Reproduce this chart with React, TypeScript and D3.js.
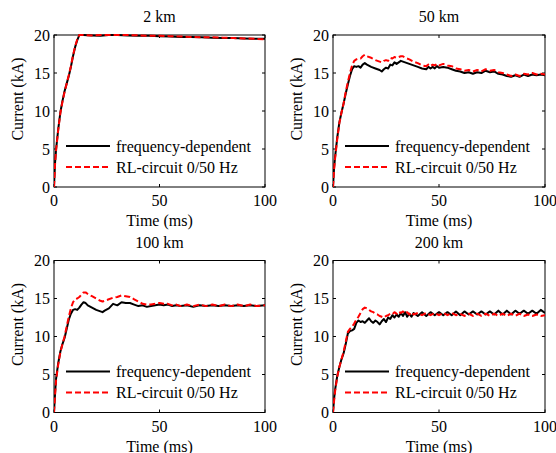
import React from "react";
import * as d3 from "d3";

// ---------- data ----------
const panelTitles = ["2 km", "50 km", "100 km", "200 km"];
const seriesNames = ["frequency-dependent", "RL-circuit 0/50 Hz"];
const xTicks = [0, 50, 100];
const yTicks = [0, 5, 10, 15, 20];

// 2 km
const t1 = [0, 0.5, 1, 2, 3, 4, 5, 6, 7, 8, 9, 10, 11, 12, 14, 18, 22, 26, 30, 35, 40, 45, 50, 55, 60, 65, 70, 75, 80, 85, 90, 95, 100];
const freq1 = [0, 3.2, 5, 7.6, 9.8, 11.3, 12.6, 13.6, 14.6, 15.8, 17.2, 18.4, 19.3, 20, 20, 19.95, 19.9, 20, 20, 19.95, 19.9, 19.9, 19.85, 19.8, 19.75, 19.75, 19.7, 19.65, 19.6, 19.6, 19.55, 19.5, 19.5];
const rl1 = [0, 3, 4.9, 7.5, 9.7, 11.2, 12.5, 13.6, 14.7, 15.9, 17.3, 18.5, 19.4, 20, 20, 19.95, 20, 20, 20, 20, 19.95, 19.9, 19.9, 19.85, 19.8, 19.75, 19.7, 19.7, 19.65, 19.6, 19.55, 19.5, 19.45];

// 50 km
const t2 = [0, 0.5, 1, 2, 3, 4, 5, 6, 7, 8, 9, 10, 11, 12, 13, 14, 15, 16, 18, 20, 22, 23, 24, 25, 26, 27, 28, 29, 30, 31, 32, 33, 34, 36, 38, 40, 42, 44, 45, 46, 47, 48, 49, 50, 52, 54, 56, 58, 60, 62, 64, 66, 68, 70, 72, 74, 76, 78, 80, 82, 84, 86, 88, 90, 92, 94, 96, 98, 100];
const freq2 = [0, 2.5, 4, 6.5, 8.5, 9.8, 11, 12.3, 13.5, 14.6, 15.5, 15.9, 15.8, 15.9, 15.7, 16.1, 16.3, 16.1, 15.8, 15.6, 15.4, 15.2, 15.5, 15.7, 15.6, 16.1, 16.0, 16.4, 16.2, 16.4, 16.6, 16.5, 16.4, 16.2, 16.0, 15.8, 15.6, 15.5, 15.8, 15.6, 15.8, 15.6, 15.9, 15.7, 15.8, 15.7, 15.5, 15.3, 15.2, 15.0, 15.1, 14.9, 15.1, 15.0, 15.3, 15.1, 15.2, 14.9, 14.8, 14.6, 14.5, 14.7, 14.5, 14.8, 14.6, 14.8, 14.7, 14.8, 14.7];
const rl2 = [0, 2.3, 3.8, 6.3, 8.4, 9.8, 11, 12.5, 13.8, 15.0, 16.0, 16.6, 16.8, 16.9, 16.9, 17.2, 17.4, 17.2, 17.0, 16.7, 16.5, 16.4, 16.6, 16.7, 16.6, 17.0, 16.9, 17.1, 17.0, 17.1, 17.2, 17.2, 17.0, 16.8, 16.5, 16.3, 16.0, 15.9, 16.1, 15.9, 16.1, 16.0, 16.2, 16.0, 16.2, 16.0, 15.9, 15.6, 15.5, 15.3, 15.4, 15.2, 15.4, 15.2, 15.5, 15.3, 15.4, 15.1, 15.0, 14.8, 14.6, 14.8, 14.6, 14.9, 14.8, 15.0, 14.8, 14.9, 14.8];

// 100 km
const t3 = [0, 0.5, 1, 2, 3, 4, 5, 6, 7, 8, 9, 10, 11, 12, 13, 14, 15, 16, 18, 20, 22, 23, 24, 26, 28, 30, 32, 34, 36, 38, 40, 42, 44, 46, 48, 50, 52, 54, 56, 58, 60, 63, 66, 69, 72, 75, 78, 81, 84, 87, 90, 93, 96, 100];
const freq3 = [0, 2.5, 4.5, 6.5, 8, 9, 9.8, 11, 12.2, 13, 13.5, 13.6, 13.5, 13.8, 14.2, 14.5, 14.4, 14.1, 13.8, 13.5, 13.3, 13.2, 13.4, 13.7, 14.3, 14.1, 14.5, 14.4, 14.4, 14.2, 14.0, 14.1, 13.9, 14.0, 14.1, 14.2, 14.1, 14.2, 14.0, 14.1, 14.0, 14.1, 13.9, 14.1, 14.0, 14.1, 14.0, 14.1, 14.0, 14.1, 14.0, 14.1, 14.0, 14.1];
const rl3 = [0, 2.3, 4.3, 6.3, 7.9, 9, 10, 11.3, 12.6, 13.7, 14.5, 14.9, 15.0, 15.2, 15.5, 15.8, 15.8, 15.6, 15.3, 15.0, 14.7, 14.6, 14.7, 14.9, 15.1, 15.2, 15.4, 15.3, 15.2, 14.9, 14.6, 14.3, 14.2, 14.2, 14.3, 14.4, 14.3, 14.3, 14.1, 14.2, 14.0, 14.2, 14.0, 14.2, 14.0, 14.2, 14.0, 14.2, 14.0, 14.2, 14.0, 14.2, 14.0, 14.1];

// 200 km
const t4 = [0, 0.5, 1, 2, 3, 4, 5, 6, 7, 8, 9, 10, 11, 12, 13, 14, 15, 16, 17, 18, 19, 20, 21, 22, 23, 24, 25, 26, 27, 28, 29, 30, 31, 32, 33, 34, 35, 36, 37, 38, 40, 42, 44, 46, 48, 50, 52, 54, 56, 58, 60, 62, 64, 66, 68, 70, 72, 74, 76, 78, 80, 82, 84, 86, 88, 90, 92, 94, 96, 98, 100];
const freq4 = [0, 1.8, 3, 4.8, 6, 7, 7.8, 9, 10.4, 10.7, 10.8, 11, 11.8, 12.1, 11.9, 12.0, 11.8, 12.1, 12.4, 12.0, 11.8, 12.1, 11.9, 11.6, 12.0, 12.3, 11.9, 12.5, 12.3, 12.8, 12.5, 12.9, 12.6, 13.1, 12.7, 13.2, 12.6, 13.0, 12.6, 13.1, 12.7, 13.2, 12.7, 13.2, 12.8, 13.2, 12.8, 13.2, 12.8, 13.3, 12.8, 13.3, 12.9, 13.3, 12.9, 13.3, 12.9, 13.3, 12.9, 13.4, 12.9, 13.4, 12.9, 13.4, 13.0, 13.4, 13.0, 13.4, 13.0, 13.5, 13.1];
const rl4 = [0, 1.5, 2.8, 4.7, 6, 7, 8, 9.3, 10.6, 11.0, 11.3, 11.7, 12.2, 12.6, 13.1, 13.6, 13.8, 13.7, 13.5, 13.3, 13.2, 13.0, 12.9, 12.7, 12.6, 12.5, 12.7, 12.8, 13.0, 12.9, 13.2, 13.0, 13.3, 13.1, 13.3, 13.0, 13.2, 12.9, 13.2, 12.9, 13.1, 12.8, 13.1, 12.8, 13.1, 12.8, 13.1, 12.8, 13.1, 12.8, 13.0, 12.7, 13.0, 12.7, 13.0, 12.7, 13.0, 12.7, 13.0, 12.7, 13.0, 12.7, 13.0, 12.7, 13.0, 12.7, 12.9, 12.7, 12.9, 12.7, 12.8];

const panelTimes = [t1, t2, t3, t4];
const panelFreq = [freq1, freq2, freq3, freq4];
const panelRL = [rl1, rl2, rl3, rl4];

// ---------- layout ----------
const W = 556;
const H = 453;
const FONT = "'Liberation Serif', 'Times New Roman', serif";
const FS = 16;
const boxes = [
  { left: 54, right: 265, top: 35, bottom: 187 },
  { left: 333, right: 545, top: 35, bottom: 187 },
  { left: 54, right: 265, top: 260.5, bottom: 412.5 },
  { left: 333, right: 545, top: 260.5, bottom: 412.5 },
];

function Panel({ idx }: { idx: number }) {
  const b = boxes[idx];
  const x = d3.scaleLinear().domain([0, 100]).range([b.left, b.right]);
  const y = d3.scaleLinear().domain([0, 20]).range([b.bottom, b.top]);
  const times = panelTimes[idx];
  const line = d3
    .line<number>()
    .x((_, i) => x(times[i]))
    .y((v) => y(v));
  const clipId = `clip${idx}`;
  const tickLen = 3;
  const cx = (b.left + b.right) / 2;
  const cy = (b.top + b.bottom) / 2;
  return (
    <g>
      <defs>
        <clipPath id={clipId}>
          <rect x={b.left} y={b.top - 2} width={b.right - b.left} height={b.bottom - b.top + 2} />
        </clipPath>
      </defs>
      {/* box */}
      <rect x={b.left} y={b.top} width={b.right - b.left} height={b.bottom - b.top} fill="white" stroke="black" strokeWidth={1} />
      {/* ticks */}
      {xTicks.map((t) => (
        <g key={"x" + t}>
          <line x1={x(t)} x2={x(t)} y1={b.bottom} y2={b.bottom - tickLen} stroke="black" />
          <line x1={x(t)} x2={x(t)} y1={b.top} y2={b.top + tickLen} stroke="black" />
          <text x={x(t)} y={b.bottom + 19} textAnchor="middle" fontFamily={FONT} fontSize={FS}>
            {t}
          </text>
        </g>
      ))}
      {yTicks.map((t) => (
        <g key={"y" + t}>
          <line x1={b.left} x2={b.left + tickLen} y1={y(t)} y2={y(t)} stroke="black" />
          <line x1={b.right} x2={b.right - tickLen} y1={y(t)} y2={y(t)} stroke="black" />
          <text x={b.left - 4} y={y(t) + 5.5} textAnchor="end" fontFamily={FONT} fontSize={FS}>
            {t}
          </text>
        </g>
      ))}
      {/* title */}
      <text x={cx} y={b.top - 13} textAnchor="middle" fontFamily={FONT} fontSize={FS}>
        {panelTitles[idx]}
      </text>
      {/* axis labels */}
      <text x={cx} y={b.bottom + 39} textAnchor="middle" fontFamily={FONT} fontSize={FS}>
        Time (ms)
      </text>
      <text
        transform={`translate(${b.left - 31},${cy - 12}) rotate(-90)`}
        textAnchor="middle"
        fontFamily={FONT}
        fontSize={FS}
      >
        Current (kA)
      </text>
      {/* curves */}
      <g clipPath={`url(#${clipId})`}>
        <path d={line(panelFreq[idx]) || ""} fill="none" stroke="black" strokeWidth={2} strokeLinejoin="round" />
        <path d={line(panelRL[idx]) || ""} fill="none" stroke="#ff0000" strokeWidth={2} strokeDasharray="6,3" strokeLinejoin="round" />
      </g>
      {/* legend */}
      <line x1={b.left + 12} x2={b.left + 56} y1={b.top + 111} y2={b.top + 111} stroke="black" strokeWidth={2} />
      <text x={b.left + 62} y={b.top + 116.5} fontFamily={FONT} fontSize={FS}>
        {seriesNames[0]}
      </text>
      <line x1={b.left + 12} x2={b.left + 56} y1={b.top + 132} y2={b.top + 132} stroke="#ff0000" strokeWidth={2} strokeDasharray="6,3" />
      <text x={b.left + 62} y={b.top + 137.5} fontFamily={FONT} fontSize={FS}>
        {seriesNames[1]}
      </text>
    </g>
  );
}

export default function App() {
  return (
    <svg
      width={W}
      height={H}
      viewBox={`0 0 ${W} ${H}`}
      style={{ position: "absolute", left: 0, top: 0, background: "white" }}
    >
      <rect x={0} y={0} width={W} height={H} fill="white" />
      {[0, 1, 2, 3].map((i) => (
        <Panel key={i} idx={i} />
      ))}
    </svg>
  );
}
